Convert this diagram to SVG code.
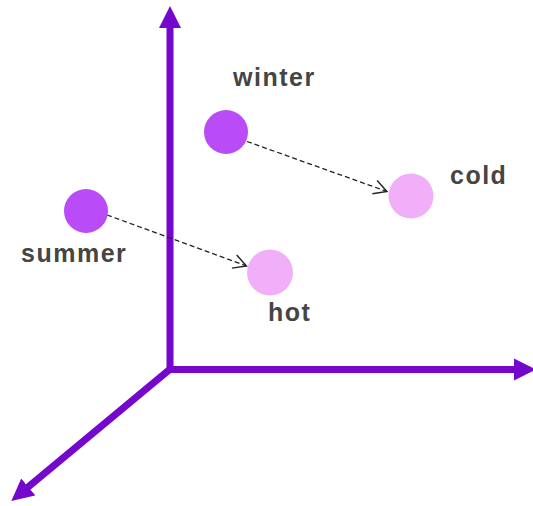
<svg xmlns="http://www.w3.org/2000/svg" width="533" height="506" viewBox="0 0 533 506">
  <style>
    .axis { stroke: #7506cc; stroke-width: 7; fill: none; }
    .link { stroke: #222; stroke-width: 1.3; stroke-dasharray: 5 3; fill: none; }
    .dark { fill: #b94cf7; }
    .light { fill: #f1aff9; }
    .lbl { font-family: "Liberation Sans", Arial, sans-serif; font-weight: bold; font-size: 25px; letter-spacing: 1.5px; fill: #454545; }
  </style>
  <defs>
    <marker id="axhead" markerUnits="userSpaceOnUse" viewBox="0 -12 24 24" refX="1" refY="0" markerWidth="24" markerHeight="24" orient="auto">
      <path d="M0,-11 L22,0 L0,11 Z" fill="#7506cc"/>
    </marker>
    <marker id="open" markerUnits="userSpaceOnUse" viewBox="-1 -1 16 16" refX="13" refY="7" markerWidth="16" markerHeight="16" orient="auto">
      <path d="M0,0 L13,7 L0,14" fill="none" stroke="#222" stroke-width="1.4"/>
    </marker>
  </defs>
  <g id="axes">
    <line class="axis" x1="170" y1="372.5" x2="170" y2="27" marker-end="url(#axhead)"/>
    <line class="axis" x1="167" y1="369.5" x2="515" y2="369.5" marker-end="url(#axhead)"/>
    <line class="axis" x1="172" y1="367.5" x2="27.5" y2="487.5" marker-end="url(#axhead)"/>
  </g>
  <g id="connectors">
    <line class="link" x1="247" y1="141.5" x2="387" y2="191.5" marker-end="url(#open)"/>
    <line class="link" x1="107" y1="215" x2="246.5" y2="266" marker-end="url(#open)"/>
  </g>
  <g id="winter">
    <circle class="dark" cx="226" cy="132" r="22"/>
    <text class="lbl" x="233" y="85.5">winter</text>
  </g>
  <g id="cold">
    <circle class="light" cx="411" cy="196" r="22.5"/>
    <text class="lbl" x="450" y="184">cold</text>
  </g>
  <g id="summer">
    <circle class="dark" cx="86" cy="211" r="22"/>
    <text class="lbl" x="21" y="262">summer</text>
  </g>
  <g id="hot">
    <circle class="light" cx="270" cy="272.5" r="23"/>
    <text class="lbl" x="268" y="321">hot</text>
  </g>
</svg>
